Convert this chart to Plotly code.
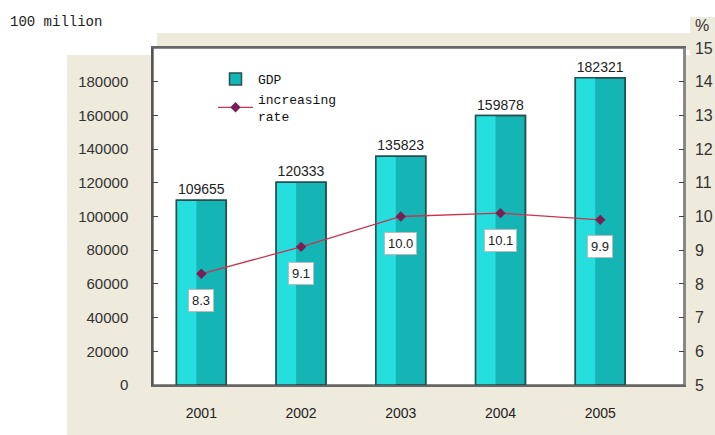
import plotly.graph_objects as go

years = ["2001", "2002", "2003", "2004", "2005"]
gdp = [109655, 120333, 135823, 159878, 182321]
rate = [8.3, 9.1, 10.0, 10.1, 9.9]
left_ticks = [0, 20000, 40000, 60000, 80000, 100000, 120000, 140000, 160000, 180000]
right_ticks = [5, 6, 7, 8, 9, 10, 11, 12, 13, 14, 15]

W, H = 715, 435
L, R, T, B = 153, 31, 48, 50
pw, ph = W - L - R, H - T - B

def px(x):
    return (x - L) / pw

def py(y):
    return (H - B - y) / ph

xs = list(range(len(years)))
fig = go.Figure()

fig.add_trace(go.Bar(
    x=xs, y=gdp, width=0.5, name="GDP", hoverinfo="skip",
    marker=dict(color="#15B5B5", line=dict(color="#24504F", width=1.5)),
))
# lighter left shading strip to mimic gradient
fig.add_trace(go.Bar(
    x=xs, y=gdp, width=0.2, offset=-0.25, showlegend=False, hoverinfo="skip",
    marker=dict(color="#25DEDE", line=dict(width=0)),
))
fig.add_trace(go.Bar(
    x=xs, y=gdp, showlegend=False, width=0.5,
    marker=dict(color="rgba(0,0,0,0)", line=dict(color="#24504F", width=1.5)),
    text=[str(v) for v in gdp], textposition="outside",
    textfont=dict(family="Arial, Liberation Sans", size=14, color="#222"),
    cliponaxis=False,
))
fig.add_trace(go.Scatter(
    x=xs, y=rate, name="increasing<br>rate", yaxis="y2",
    mode="lines+markers",
    line=dict(color="#C8344E", width=1.3),
    marker=dict(symbol="diamond", size=8, color="#7A1F55"),
))

for i, r in enumerate(rate):
    fig.add_annotation(
        x=xs[i], y=r, yref="y2", text=f"{r:.1f}", showarrow=False, yshift=-27,
        bgcolor="white", bordercolor="#bbbbbb", borderwidth=1, borderpad=3,
        font=dict(family="Arial, Liberation Sans", size=13, color="#222"),
    )

beige = "#EEEADC"
shapes = []
for (x0, y0, x1, y1) in [(67, 55, 715, 435), (157, 33, 690, 50), (690, 17, 715, 435)]:
    shapes.append(dict(type="rect", xref="paper", yref="paper", x0=px(x0), x1=px(x1),
                       y0=py(y1), y1=py(y0), fillcolor=beige, line=dict(width=0), layer="below"))
shapes.append(dict(type="rect", xref="paper", yref="paper", x0=0, x1=1, y0=0, y1=1,
                   fillcolor="white", line=dict(color="#666", width=1.5), layer="below"))

fig.add_annotation(xref="paper", yref="paper", x=px(8), y=py(22), xanchor="left", yanchor="middle",
                   text="100 million", showarrow=False,
                   font=dict(family="Liberation Mono, DejaVu Sans Mono", size=14, color="#222"))
fig.add_annotation(xref="paper", yref="paper", x=px(693), y=py(26), xanchor="left", yanchor="middle",
                   text="%", showarrow=False,
                   font=dict(family="Arial, Liberation Sans", size=16, color="#333"))

fig.update_layout(
    width=W, height=H, margin=dict(l=L, r=R, t=T, b=B, autoexpand=False),
    paper_bgcolor="white", plot_bgcolor="rgba(0,0,0,0)",
    barmode="overlay", shapes=shapes,
    xaxis=dict(range=[-0.485, 4.84], tickvals=xs, ticktext=years, ticks="",
               showline=True, linecolor="#666", linewidth=1.5, mirror=True,
               showgrid=False, zeroline=False, ticklabelstandoff=14, automargin=False,
               tickfont=dict(family="Arial, Liberation Sans", size=14, color="#222")),
    yaxis=dict(range=[0, 200000], tickvals=left_ticks, ticktext=[str(v) for v in left_ticks],
               ticks="inside", ticklen=5, automargin=False,
               tickcolor="#444", showline=True, linecolor="#555", linewidth=1.5,
               showgrid=False, zeroline=False, ticklabelstandoff=20,
               tickfont=dict(family="Arial, Liberation Sans", size=15, color="#333")),
    yaxis2=dict(range=[5, 15], tickvals=right_ticks, overlaying="y", side="right",
                ticks="inside", ticklen=5, tickcolor="#444", showline=True, linecolor="#888",
                linewidth=1.5, showgrid=False, zeroline=False, ticklabelstandoff=6,
                automargin=False,
                tickfont=dict(family="Arial, Liberation Sans", size=16, color="#333")),
    legend=dict(x=px(213), y=py(64), xanchor="left", yanchor="top", bgcolor="rgba(0,0,0,0)",
                font=dict(family="Liberation Mono, DejaVu Sans Mono", size=13, color="#111"),
                tracegroupgap=2, itemwidth=35),
    showlegend=True,
)

fig.write_html("out.html")
